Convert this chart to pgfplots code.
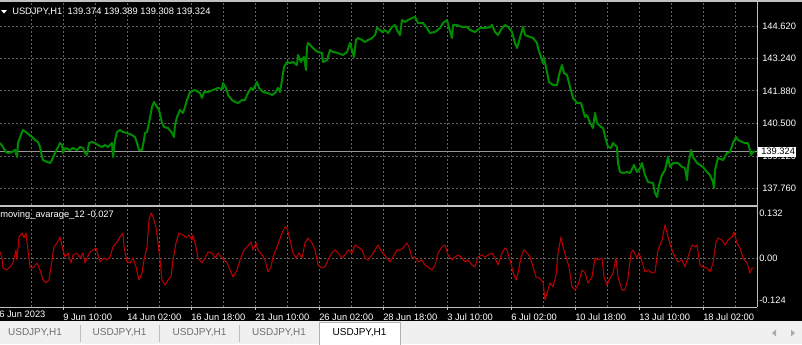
\documentclass[border=0pt]{standalone}
\usepackage{pgfplots}
\pgfplotsset{compat=1.18}
\usepackage{fontspec}
\setmainfont{Liberation Sans}
\definecolor{gridc}{RGB}{100,100,100}
\definecolor{framec}{RGB}{192,192,192}
\definecolor{pricegreen}{RGB}{0,140,0}
\definecolor{indred}{RGB}{185,0,0}
\definecolor{tabbg}{RGB}{240,240,240}
\definecolor{tabtext}{RGB}{110,110,110}
\definecolor{tabsep}{RGB}{190,190,190}
\definecolor{curline}{RGB}{150,150,150}
\newcommand{\lbl}{\fontsize{7}{8}\selectfont}
\newcommand{\tabf}{\fontsize{7.5}{9}\selectfont}

\pgfplotstableread{
x p
0 139.673
3 139.504
6 139.292
8 139.250
12 139.292
15 139.377
17 139.081
18 139.673
22 140.138
23 140.223
27 140.096
32 139.927
35 139.800
38 139.715
40 139.504
42 139.081
43 138.954
47 138.870
50 138.827
52 138.954
55 139.250
58 139.504
60 139.673
62 139.588
63 139.250
65 139.461
70 139.377
73 139.461
77 139.377
80 139.504
83 139.461
85 139.250
87 139.166
89 139.673
92 139.715
95 139.673
98 139.588
102 139.504
105 139.588
108 139.504
112 139.673
113 139.081
115 139.800
117 140.138
120 140.223
123 140.138
127 140.096
132 140.011
135 139.927
137 139.673
139 139.377
142 139.377
144 139.800
145 140.096
147 140.138
149 140.519
152 141.195
154 141.407
157 141.195
159 141.068
162 140.519
164 140.350
168 140.307
172 140.096
174 139.927
175 140.434
177 140.772
180 141.068
183 140.941
185 141.195
187 141.491
190 141.829
195 141.914
200 141.787
202 141.576
204 141.829
208 141.829
213 141.914
218 141.999
222 141.956
223 142.210
226 141.999
228 141.703
232 141.491
235 141.407
238 141.364
242 141.491
245 141.491
248 141.787
251 141.999
253 141.914
257 142.252
259 141.999
263 141.829
268 141.787
272 141.703
275 141.787
278 141.999
280 141.829
282 142.337
284 142.886
287 143.098
290 143.056
293 143.098
297 142.971
298 143.394
301 143.098
303 143.267
304 143.309
306 142.760
307 143.732
308 143.901
312 143.732
315 143.605
318 143.521
322 143.478
323 143.098
327 143.182
330 143.605
333 143.521
338 143.478
343 143.394
347 143.521
350 143.901
352 143.605
354 143.309
356 144.028
358 144.113
362 144.028
365 143.944
368 144.028
372 144.113
375 144.240
377 144.536
380 144.451
382 144.366
385 144.451
388 144.324
392 144.578
395 144.662
397 144.451
400 144.240
402 144.874
405 144.789
408 144.874
412 144.958
415 145.001
418 144.747
423 144.747
427 144.536
430 144.324
435 144.366
440 144.536
443 144.747
447 144.874
449 144.536
452 144.113
453 144.662
457 144.662
462 144.578
467 144.578
470 144.451
475 144.366
480 144.536
485 144.536
490 144.578
492 144.662
495 144.366
498 144.240
502 144.536
505 144.662
508 144.578
512 144.366
515 143.901
517 143.690
520 144.113
523 144.578
525 144.240
530 144.155
533 144.113
537 143.901
538 143.690
541 143.309
543 143.056
544 143.267
547 142.675
549 142.252
553 142.125
557 142.125
559 142.548
562 142.971
564 142.633
567 142.548
570 142.041
573 141.576
577 141.364
581 141.364
583 141.068
585 140.772
587 140.857
590 140.519
593 140.307
595 140.941
597 140.519
601 140.350
603 140.307
606 139.800
608 139.504
611 139.461
613 139.673
617 139.504
618 138.827
620 138.447
623 138.404
627 138.447
630 138.404
634 138.743
637 138.447
640 138.616
642 138.827
645 138.320
648 138.024
653 137.982
655 137.559
657 137.390
659 137.897
662 138.320
665 138.531
668 139.081
670 138.658
673 138.827
678 138.827
682 138.658
685 138.616
687 138.109
688 138.658
691 139.377
693 139.081
697 138.827
700 138.743
703 138.658
707 138.447
710 138.320
713 138.024
714 137.770
715 138.531
718 139.039
723 138.954
727 139.250
730 139.292
733 139.673
736 139.927
738 139.800
742 139.715
745 139.673
748 139.673
751 139.166
753 139.292
755 139.324
}\price

\pgfplotstableread{
x v
0 0.0177
2 0.0015
3 -0.0241
7 -0.0292
10 -0.0215
13 -0.0113
16 0.0220
17 -0.0036
19 0.0553
22 0.0655
24 0.0527
26 0.0655
28 0.0220
30 -0.0215
33 -0.0241
37 -0.0113
40 -0.0292
43 -0.0548
46 -0.0625
49 -0.0548
52 -0.0036
54 0.0297
57 0.0399
60 0.0553
63 0.0220
65 0.0041
68 0.0143
71 -0.0113
73 0.0092
77 0.0143
80 0.0015
83 0.0143
85 -0.0113
87 0.0015
90 0.0169
93 0.0220
96 0.0271
98 0.0092
100 -0.0087
104 0.0015
107 -0.0036
110 0.0041
113 0.0297
117 0.0425
120 0.0553
123 0.0655
124 0.0297
127 -0.0087
130 -0.0113
133 0.0015
136 -0.0215
139 -0.0548
142 -0.0369
144 -0.0036
147 0.0297
149 0.0988
151 0.1167
153 0.1065
156 0.0809
158 0.0399
160 -0.0036
162 -0.0548
165 -0.0676
168 -0.0548
171 -0.0471
173 -0.0036
176 0.0399
179 0.0655
183 0.0604
186 0.0527
189 0.0604
192 0.0476
193 0.0604
196 0.0297
198 0.0015
202 -0.0113
205 0.0015
208 0.0169
212 0.0143
215 0.0015
218 0.0143
222 0.0015
227 -0.0113
230 -0.0292
233 -0.0471
237 -0.0292
240 -0.0036
244 0.0220
247 0.0297
251 0.0425
253 0.0220
256 0.0399
258 0.0220
262 0.0092
265 -0.0036
268 -0.0343
271 -0.0215
273 0.0041
277 0.0297
282 0.0655
285 0.0809
287 0.0783
290 0.0476
293 0.0143
296 0.0015
299 0.0143
302 0.0015
305 0.0399
308 0.0527
312 0.0399
315 0.0220
318 -0.0164
322 -0.0241
325 -0.0215
328 -0.0036
332 0.0143
335 0.0220
338 0.0143
342 0.0015
345 0.0092
348 0.0220
352 0.0143
355 0.0348
358 0.0297
362 0.0220
365 0.0015
368 -0.0036
372 0.0092
375 0.0220
378 0.0348
382 0.0169
387 0.0015
390 -0.0087
393 0.0041
397 0.0220
400 0.0220
403 0.0271
407 0.0399
409 0.0297
412 0.0015
415 0.0041
418 -0.0087
422 -0.0036
425 -0.0164
428 -0.0215
432 -0.0292
435 -0.0164
438 0.0143
442 0.0297
445 0.0348
448 0.0092
452 -0.0036
455 0.0041
458 0.0092
462 0.0015
465 -0.0087
468 -0.0036
472 -0.0164
475 -0.0215
478 0.0041
482 0.0092
485 0.0041
488 0.0092
492 0.0143
495 0.0015
498 -0.0164
502 0.0143
505 0.0271
507 0.0220
510 -0.0036
513 -0.0343
516 -0.0548
518 -0.0369
521 0.0041
524 0.0220
527 0.0143
530 0.0041
533 -0.0215
536 -0.0471
539 -0.0497
543 -0.0599
545 -0.1060
547 -0.0881
550 -0.0625
553 -0.0727
556 -0.0420
558 0.0143
561 0.0553
563 0.0297
566 0.0041
569 -0.0215
572 -0.0727
575 -0.0804
578 -0.0676
582 -0.0292
585 -0.0369
588 -0.0625
592 -0.0471
595 0.0015
598 -0.0036
602 0.0015
604 -0.0471
607 -0.0676
609 -0.0548
613 -0.0369
616 0.0015
618 -0.0471
622 -0.0804
625 -0.0804
628 -0.0497
631 0.0143
633 0.0220
637 0.0015
639 0.0143
642 -0.0087
645 -0.0343
648 -0.0292
652 -0.0369
655 -0.0343
658 0.0220
662 0.0476
665 0.0860
668 0.0553
672 0.0220
675 0.0041
678 -0.0087
682 -0.0036
685 -0.0215
688 0.0041
692 0.0348
695 0.0297
697 0.0348
700 -0.0164
703 -0.0215
707 -0.0241
710 -0.0343
713 -0.0113
716 0.0425
718 0.0527
722 0.0476
725 0.0348
728 0.0476
732 0.0553
734 0.0681
737 0.0399
740 0.0271
743 0.0015
747 -0.0113
750 -0.0369
752 -0.0241
753 -0.0270
}\osc

\pgfplotsset{mtgrid/.style={
  scale only axis, width=567.75pt, anchor=south west,
  xmin=0, xmax=757,
  axis line style={draw=none},
  xtick={63,127,...,703}, minor xtick={31,95,...,735},
  xmajorgrids, xminorgrids, ymajorgrids,
  major grid style={gridc, line width=0.75pt, dash pattern=on 1.5pt off 1.5pt},
  minor grid style={gridc, line width=0.75pt, dash pattern=on 1.5pt off 1.5pt},
  minor tick length=0pt,
}}

\begin{document}
\begin{tikzpicture}
\useasboundingbox (0pt,0pt) rectangle (601.5pt,-258pt);
\begin{scope}[x=0.75pt,y=-0.75pt]
  \fill[black] (0,0) rectangle (802,321);
  \fill[tabbg] (0,321) rectangle (802,344);
\end{scope}

% upper pane
\begin{axis}[mtgrid, at={(0pt,-153.75pt)}, height=152.25pt,
  ymin=137.051, ymax=145.635,
  xticklabels={}, major tick length=0pt,
  ytick={137.76,139.12,140.50,141.88,143.24,144.62},
  yticklabels={137.760,139.120,140.500,141.880,143.240,144.620},
  yticklabel pos=right,
  yticklabel style={anchor=west, inner sep=0pt, xshift=3.75pt, text=white, font=\lbl},
]
\draw[curline, line width=0.75pt] (axis cs:0,139.324) -- (axis cs:757,139.324);
\addplot[pricegreen, line width=1.5pt, line join=round] table[x=x, y=p] {\price};
\end{axis}

% lower pane
\begin{axis}[mtgrid, at={(0pt,-230.25pt)}, height=75pt,
  ymin=-0.124, ymax=0.132,
  ytick={0}, yticklabels={}, ytick style={draw=none},
  xtick pos=lower, tick align=outside, major tick length=2.25pt,
  xtick style={framec, line width=0.75pt},
  xticklabels={9 Jun 10:00,14 Jun 02:00,16 Jun 18:00,21 Jun 10:00,26 Jun 02:00,28 Jun 18:00,3 Jul 10:00,6 Jul 02:00,10 Jul 18:00,13 Jul 10:00,18 Jul 02:00},
  xticklabel style={anchor=west, inner sep=0pt, text=white, font=\lbl, yshift=-5.25pt},
]
\addplot[indred, line width=0.8pt, line join=round] table[x=x, y=v] {\osc};
\end{axis}

\begin{scope}[x=0.75pt,y=-0.75pt]
  % frame
  \draw[framec, line width=1.1pt] (0,1) -- (802,1);
  \draw[framec, line width=0.75pt] (757,1) -- (757,307);
  \draw[framec, line width=1.5pt] (0,205.5) -- (757,205.5);
  \draw[framec, line width=0.75pt] (0,307) -- (757,307);
  % current price box
  \fill[white] (757.5,146.5) rectangle (796,157);
  \node[anchor=west, inner sep=0pt, text=black, font=\lbl] at (761,151.7) {139.324};
  % header texts
  \fill[white] (1,10) -- (7,10) -- (4,13.5) -- cycle;
  \node[anchor=west, inner sep=0pt, text=white, font=\lbl] at (12,12) {USDJPY,H1\hspace{4pt}139.374 139.389 139.308 139.324};
  \node[anchor=west, inner sep=0pt, text=white, font=\lbl] at (0,215) {moving\_avarage\_12 -0.027};
  % lower scale
  \node[anchor=west, inner sep=0pt, text=white, font=\lbl] at (759,213) {0.132};
  \node[anchor=west, inner sep=0pt, text=white, font=\lbl] at (759,258.6) {0.00};
  \node[anchor=west, inner sep=0pt, text=white, font=\lbl] at (759,300) {-0.124};
  \node[anchor=west, inner sep=0pt, text=white, font=\lbl] at (-1,314) {6 Jun 2023};
  % tabs
  \fill[white] (319,322) rectangle (400,344.5);
  \draw[tabsep!80!gray, line width=0.75pt] (319,344.5) -- (319,322) -- (400,322) -- (400,344.5);
  \foreach \s in {80,159,239} \draw[tabsep, line width=0.75pt] (\s,325) -- (\s,342);
  \node[text=tabtext, font=\tabf, inner sep=0pt] at (35,333) {USDJPY,H1};
  \node[text=tabtext, font=\tabf, inner sep=0pt] at (119.5,333) {USDJPY,H1};
  \node[text=tabtext, font=\tabf, inner sep=0pt] at (199.5,333) {USDJPY,H1};
  \node[text=tabtext, font=\tabf, inner sep=0pt] at (279,333) {USDJPY,H1};
  \node[text=black, font=\tabf, inner sep=0pt] at (359.5,333) {USDJPY,H1};
  \fill[tabsep!70!gray] (772,333) -- (776,329.5) -- (776,336.5) -- cycle;
  \fill[tabsep!70!gray] (795,333) -- (791,329.5) -- (791,336.5) -- cycle;
\end{scope}
\end{tikzpicture}
\end{document}
